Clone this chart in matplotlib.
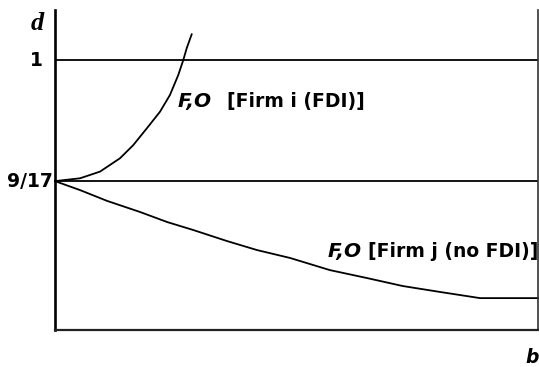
import matplotlib
matplotlib.use("Agg")
import matplotlib.pyplot as plt

# Data (b on x, d on y)
upper_b = [0.0, 0.0518, 0.0932, 0.1346, 0.162, 0.190, 0.2174, 0.238, 0.2553,
           0.2656, 0.2727, 0.283]
upper_d = [0.529, 0.540, 0.566, 0.618, 0.669, 0.734, 0.799, 0.864, 0.942,
           1.000, 1.046, 1.100]
lower_b = [0.0, 0.052, 0.108, 0.176, 0.232, 0.286, 0.356, 0.418, 0.487, 0.569,
           0.646, 0.720, 0.797, 0.880, 1.0]
lower_d = [0.529, 0.494, 0.452, 0.409, 0.370, 0.339, 0.296, 0.261, 0.230, 0.183,
           0.152, 0.121, 0.098, 0.074, 0.074]
hlines = [9 / 17, 1.0]
hline_labels = ["9/17", "1"]

fig = plt.figure(figsize=(5.39, 3.67), dpi=100)
W, H = 539, 367
ax = fig.add_axes([55 / W, (H - 330) / H, (538 - 55) / W, (330 - 10) / H])
ax.set_xlim(0, 1)
ax.set_ylim(-0.050, 1.1945)

font = "DejaVu Sans"
for y in hlines:
    ax.plot([0, 1], [y, y], color="black", lw=1.3, solid_capstyle="butt")
ax.plot(upper_b, upper_d, color="black", lw=1.3, clip_on=False)
ax.plot(lower_b, lower_d, color="black", lw=1.3, clip_on=False)

ax.spines["top"].set_visible(False)
ax.spines["left"].set_linewidth(1.9)
ax.spines["bottom"].set_linewidth(1.6)
ax.spines["bottom"].set_color("#222222")
ax.spines["right"].set_linewidth(1.2)
ax.spines["right"].set_color("#333333")
ax.set_xticks([])
ax.set_yticks([])

fs = 13.5
# y labels
ax.text(-0.026, 1.0, hline_labels[1], ha="right", va="center", fontsize=fs,
        fontweight="bold", family=font, clip_on=False)
ax.text(-0.004, 9 / 17, hline_labels[0], ha="right", va="center", fontsize=fs,
        fontweight="bold", family=font, clip_on=False)
# axis names
ax.text(-0.0500, 1.117, "d", ha="left", va="baseline", fontsize=19,
        fontweight="bold", fontstyle="italic", family="Liberation Serif", clip_on=False)
ax.text(0.974, -0.178, "b", ha="left", va="baseline", fontsize=fs,
        fontweight="bold", fontstyle="italic", family=font, clip_on=False)

# curve labels
ax.text(0.2547, 0.817, "F,O", ha="left", va="baseline", fontsize=fs + 1,
        fontweight="bold", fontstyle="italic", family=font)
ax.text(0.356, 0.817, "[Firm i (FDI)]", ha="left", va="baseline", fontsize=fs,
        fontweight="bold", family=font)
ax.text(0.565, 0.234, "F,O", ha="left", va="baseline", fontsize=fs + 1,
        fontweight="bold", fontstyle="italic", family=font)
ax.text(0.648, 0.234, "[Firm j (no FDI)]", ha="left", va="baseline", fontsize=fs,
        fontweight="bold", family=font)

fig.savefig("out.png", dpi=100)
